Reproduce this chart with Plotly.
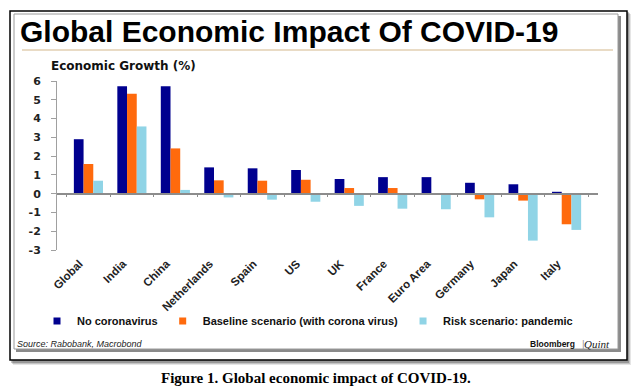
import plotly.graph_objects as go

categories = ["Global", "India", "China", "Netherlands", "Spain", "US", "UK",
              "France", "Euro Area", "Germany", "Japan", "Italy"]
no_corona = [2.9, 5.72, 5.72, 1.4, 1.35, 1.26, 0.78, 0.88, 0.88, 0.58, 0.5, 0.1]
baseline = [1.58, 5.32, 2.41, 0.71, 0.69, 0.74, 0.3, 0.3, -0.05, -0.3, -0.37, -1.63]
pandemic = [0.69, 3.58, 0.2, -0.2, -0.32, -0.43, -0.65, -0.8, -0.83, -1.26, -2.5, -1.93]
series_names = ["No coronavirus", "Baseline scenario (with corona virus)", "Risk scenario: pandemic"]
colors = ["#00008F", "#FF6A0D", "#90D4E6"]
y_ticks = [6, 5, 4, 3, 2, 1, 0, -1, -2, -3]

W, H = 638, 391
L, R, T, B = 57, 598, 81, 250  # plot area in pixels


def px(x):
    return (x - L) / (R - L)


def py(y):
    return (B - y) / (B - T)


fig = go.Figure()
for name, vals, c in zip(series_names, [no_corona, baseline, pandemic], colors):
    fig.add_trace(go.Bar(x=categories, y=vals, name=name, marker_color=c,
                         marker_line_width=0, showlegend=False, xaxis="x", yaxis="y"))
# legend entries (small square markers) also carry the zero-line axis
for name, c in zip(series_names, colors):
    fig.add_trace(go.Scatter(x=categories, y=[None] * len(categories), mode="markers",
                             name=name, marker=dict(symbol="square", size=7, color=c),
                             xaxis="x2", yaxis="y", showlegend=True))

shapes = []
# outer box shadow
for i, op in enumerate([0.10, 0.15, 0.22]):
    d = 3 - i
    shapes.append(dict(type="rect", xref="paper", yref="paper",
                       x0=px(10 + d), x1=px(627 + d + 1), y0=py(360 + d + 2), y1=py(11 + d),
                       fillcolor=f"rgba(0,0,0,{op})", line_width=0, layer="below"))
shapes.append(dict(type="rect", xref="paper", yref="paper", x0=px(10), x1=px(627),
                   y0=py(360), y1=py(11), fillcolor="white",
                   line=dict(color="black", width=1.5), layer="below"))
# inner frame shadow and frame
shapes.append(dict(type="rect", xref="paper", yref="paper", x0=px(16), x1=px(621),
                   y0=py(352), y1=py(16), fillcolor="#8a8a8a", line_width=0, layer="below"))
shapes.append(dict(type="rect", xref="paper", yref="paper", x0=px(14), x1=px(618),
                   y0=py(349), y1=py(14), fillcolor="white",
                   line=dict(color="#9a9a9a", width=1), layer="below"))
# tan rule under title
shapes.append(dict(type="line", xref="paper", yref="paper", x0=px(22), x1=px(613),
                   y0=py(50), y1=py(50), line=dict(color="#E2CFB2", width=1.5), layer="below"))

annotations = [
    dict(text="<b>Global Economic Impact Of COVID-19</b>", x=px(18), y=py(31),
         xref="paper", yref="paper", xanchor="left", yanchor="middle", showarrow=False,
         font=dict(family="Liberation Sans, Arial", size=30, color="black")),
    dict(text="<b>Economic Growth (%)</b>", x=px(49), y=py(66),
         xref="paper", yref="paper", xanchor="left", yanchor="middle", showarrow=False,
         font=dict(family="DejaVu Sans", size=12, color="#111")),
    dict(text="<i>Source: Rabobank, Macrobond</i>", x=px(15), y=py(344),
         xref="paper", yref="paper", xanchor="left", yanchor="middle", showarrow=False,
         font=dict(family="Liberation Sans, Arial", size=9, color="#222")),
    dict(text="<b>Bloomberg</b>", x=px(577), y=py(344),
         xref="paper", yref="paper", xanchor="right", yanchor="middle", showarrow=False,
         font=dict(family="Liberation Sans, Arial", size=8.5, color="#111")),
    dict(text="|", x=px(583), y=py(344),
         xref="paper", yref="paper", xanchor="center", yanchor="middle", showarrow=False,
         font=dict(family="Liberation Sans, Arial", size=10, color="#999")),
    dict(text="<i>Quint</i>", x=px(612), y=py(344),
         xref="paper", yref="paper", xanchor="right", yanchor="middle", showarrow=False,
         font=dict(family="Liberation Serif, Times New Roman", size=11, color="#222")),
    dict(text="<b>Figure 1. Global economic impact of COVID-19.</b>", x=px(316), y=py(378),
         xref="paper", yref="paper", xanchor="center", yanchor="middle", showarrow=False,
         font=dict(family="Liberation Serif, Times New Roman", size=15, color="black")),
]

fig.update_layout(
    width=W, height=H,
    margin=dict(l=L, r=W - R, t=T, b=H - B, pad=0),
    paper_bgcolor="white", plot_bgcolor="rgba(0,0,0,0)",
    barmode="group", bargap=0.33, bargroupgap=0,
    shapes=shapes, annotations=annotations,
    showlegend=True,
    legend=dict(orientation="h", x=px(37), y=py(321), xanchor="left", yanchor="middle",
                font=dict(family="Liberation Sans, Arial", size=11, color="#111", weight="bold"),
                itemwidth=30, bgcolor="rgba(0,0,0,0)", tracegroupgap=0),
    xaxis=dict(type="category", categoryorder="array", categoryarray=categories,
               showline=False, ticks="", showgrid=False, zeroline=False,
               tickangle=-45,
               tickfont=dict(family="Liberation Sans, Arial", size=11.5, color="#222", weight="bold"),
               ticklabelstandoff=4, ticklabelshift=-9),
    xaxis2=dict(type="category", matches="x", overlaying="x", anchor="free", position=1 / 3,
                showline=True, linecolor="#8c8c8c", linewidth=1.5, ticks="outside",
                tickson="boundaries", ticklen=3, tickcolor="#8c8c8c", showticklabels=False,
                showgrid=False, zeroline=False),
    yaxis=dict(range=[-3, 6], tickvals=y_ticks, ticktext=[str(v) for v in y_ticks],
               showline=True, linecolor="#a0a0a0", linewidth=1, ticks="outside", ticklen=5,
               tickcolor="#a0a0a0", showgrid=False, zeroline=False,
               tickfont=dict(family="DejaVu Sans", size=11, color="#222", weight="bold"),
               ticklabelstandoff=8),
)

fig.write_html("out.html", config={"displayModeBar": False},
               post_script="document.body.style.margin='0';")
